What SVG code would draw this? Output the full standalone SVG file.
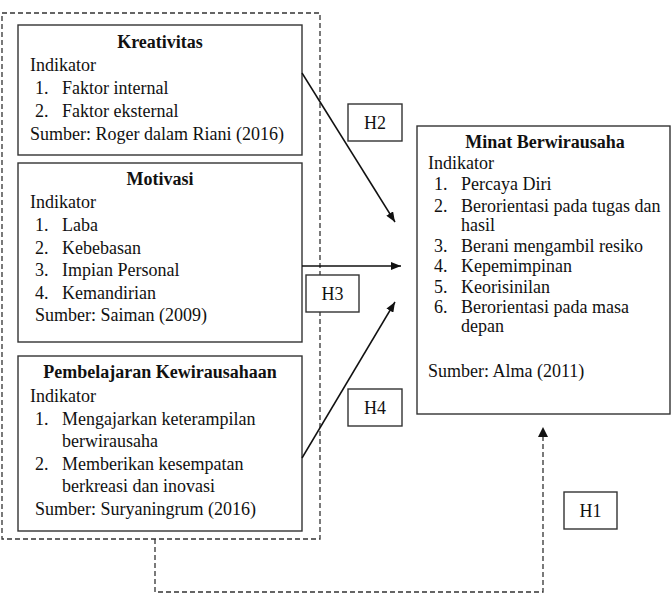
<svg xmlns="http://www.w3.org/2000/svg" width="672" height="613" viewBox="0 0 672 613">
<style>
.box{fill:#fff;stroke:#333;stroke-width:1.4}
.dash{fill:none;stroke:#333;stroke-width:1.3;stroke-dasharray:5,3}
.line{fill:none;stroke:#111;stroke-width:1.5}
text{font-family:"Liberation Serif","Times New Roman",serif;font-size:18px;fill:#111}
.t{font-weight:bold;text-anchor:middle}
.c{text-anchor:middle}
</style>
<defs>
<marker id="ah" viewBox="0 0 10 8" refX="10" refY="4" markerWidth="10" markerHeight="8" markerUnits="userSpaceOnUse" orient="auto">
<path d="M0,0 L10,4 L0,8 z" fill="#111"/>
</marker>
</defs>
<rect id="group-boundary" class="dash" x="2" y="13" width="318" height="526"/>
<g id="kreativitas">
<rect class="box" x="18" y="25" width="284" height="130"/>
<text class="t" x="160" y="48">Kreativitas</text>
<text x="30" y="71">Indikator</text>
<text x="35" y="94">1.</text><text x="62" y="94">Faktor internal</text>
<text x="35" y="117">2.</text><text x="62" y="117">Faktor eksternal</text>
<text x="30" y="140">Sumber: Roger dalam Riani (2016)</text>
</g>
<g id="motivasi">
<rect class="box" x="18" y="163" width="284" height="179"/>
<text class="t" x="160" y="185">Motivasi</text>
<text x="30" y="208">Indikator</text>
<text x="35" y="231">1.</text><text x="62" y="231">Laba</text>
<text x="35" y="254">2.</text><text x="62" y="254">Kebebasan</text>
<text x="35" y="276">3.</text><text x="62" y="276">Impian Personal</text>
<text x="35" y="299">4.</text><text x="62" y="299">Kemandirian</text>
<text x="35" y="321">Sumber: Saiman (2009)</text>
</g>
<g id="pembelajaran">
<rect class="box" x="18" y="356" width="284" height="175"/>
<text class="t" x="160" y="378">Pembelajaran Kewirausahaan</text>
<text x="30" y="402">Indikator</text>
<text x="35" y="425">1.</text><text x="62" y="425">Mengajarkan keterampilan</text>
<text x="62" y="447">berwirausaha</text>
<text x="35" y="470">2.</text><text x="62" y="470">Memberikan kesempatan</text>
<text x="62" y="492">berkreasi dan inovasi</text>
<text x="35" y="515">Sumber: Suryaningrum (2016)</text>
</g>
<g id="minat">
<rect class="box" x="417" y="126" width="253" height="288"/>
<text class="t" x="545" y="148">Minat Berwirausaha</text>
<text x="428" y="169">Indikator</text>
<text x="434" y="190">1.</text><text x="461" y="190">Percaya Diri</text>
<text x="434" y="212">2.</text><text x="461" y="212">Berorientasi pada tugas dan</text>
<text x="461" y="231">hasil</text>
<text x="434" y="252">3.</text><text x="461" y="252">Berani mengambil resiko</text>
<text x="434" y="272">4.</text><text x="461" y="272">Kepemimpinan</text>
<text x="434" y="293">5.</text><text x="461" y="293">Keorisinilan</text>
<text x="434" y="313">6.</text><text x="461" y="313">Berorientasi pada masa</text>
<text x="461" y="332">depan</text>
<text x="428" y="377">Sumber: Alma (2011)</text>
</g>
<g id="connectors">
<line class="line" x1="302" y1="73" x2="395" y2="222" marker-end="url(#ah)"/>
<line class="line" x1="302" y1="266" x2="401" y2="266" marker-end="url(#ah)"/>
<line class="line" x1="302" y1="458" x2="395" y2="302" marker-end="url(#ah)"/>
<polyline class="dash" points="155,539 155,592 543,592 543,436"/>
<path d="M538,437 L543,427 L548,437 z" fill="#111"/>
</g>
<g id="h2"><rect class="box" x="348" y="104" width="54" height="37"/><text class="c" x="375" y="129">H2</text></g>
<g id="h3"><rect class="box" x="306" y="275" width="53" height="37"/><text class="c" x="332.5" y="300">H3</text></g>
<g id="h4"><rect class="box" x="348" y="389" width="54" height="37"/><text class="c" x="375" y="414">H4</text></g>
<g id="h1"><rect class="box" x="564" y="492" width="53" height="37"/><text class="c" x="590.5" y="517">H1</text></g>
</svg>
